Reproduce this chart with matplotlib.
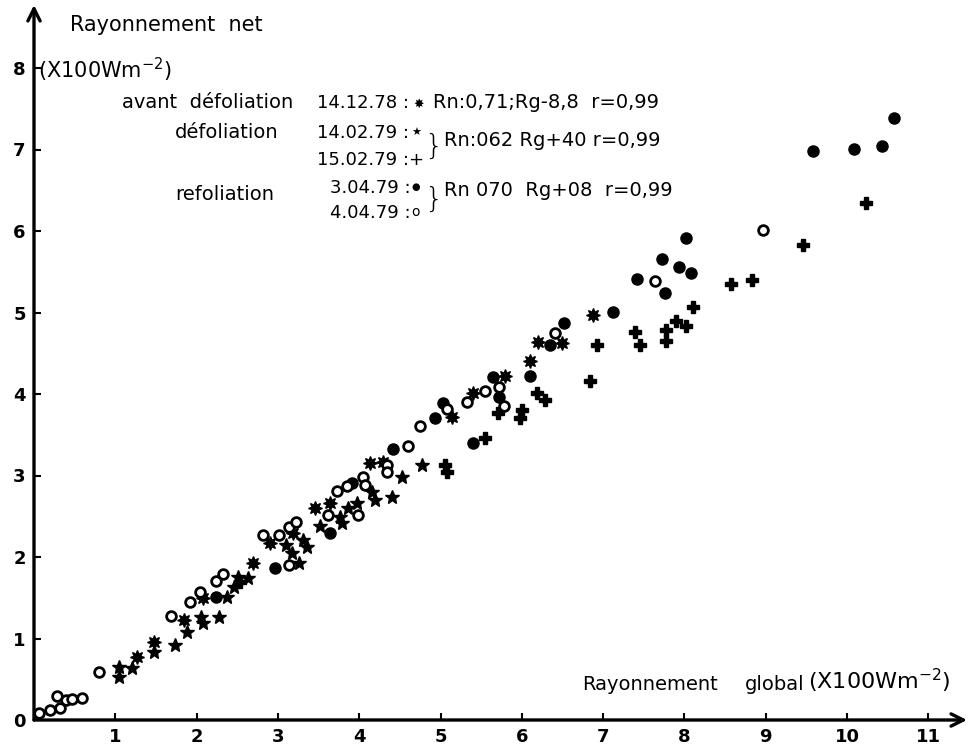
import matplotlib.pyplot as plt

plt.rcParams['font.family'] = ['DejaVu Sans']

# Rayonnement global (x) / net (y), en 100 W m-2
# 14.12.78 : avant defoliation
asterisk_x = [1.27, 1.48, 1.85, 2.08, 2.69, 2.90, 3.19, 3.46, 3.64, 4.13, 4.29,
              5.14, 5.40, 5.79, 6.10, 6.20, 6.49, 6.88]
asterisk_y = [0.77, 0.96, 1.23, 1.50, 1.93, 2.17, 2.29, 2.60, 2.66, 3.15, 3.17,
              3.72, 4.01, 4.22, 4.40, 4.64, 4.63, 4.97]
# 14.02.79 : defoliation
star_x = [1.05, 1.05, 1.21, 1.48, 1.73, 1.88, 2.05, 2.08, 2.28, 2.37, 2.46, 2.63,
          2.51, 3.10, 3.17, 3.26, 3.31, 3.36, 3.52, 3.76, 3.79, 3.86, 3.97, 4.16,
          4.19, 4.40, 4.53, 4.77]
star_y = [0.65, 0.53, 0.64, 0.83, 0.92, 1.08, 1.26, 1.19, 1.26, 1.51, 1.63, 1.74,
          1.75, 2.15, 2.05, 1.93, 2.21, 2.12, 2.38, 2.49, 2.42, 2.60, 2.66, 2.80,
          2.70, 2.74, 2.98, 3.13]
# 15.02.79 : defoliation
plus_x = [2.53, 5.06, 5.08, 5.55, 5.71, 6.00, 5.98, 6.19, 6.29, 6.84, 6.93, 7.39,
          7.45, 7.77, 7.77, 7.90, 8.02, 8.11, 8.57, 8.83, 9.46, 10.23]
plus_y = [1.69, 3.13, 3.04, 3.46, 3.77, 3.80, 3.71, 4.01, 3.93, 4.16, 4.60, 4.76,
          4.60, 4.79, 4.65, 4.90, 4.83, 5.07, 5.35, 5.40, 5.83, 6.34]
# 3.04.79 : refoliation
dot_x = [2.24, 2.96, 3.64, 3.91, 4.42, 4.93, 5.03, 5.40, 5.65, 5.72, 6.10, 6.35,
         6.52, 7.12, 7.42, 7.72, 7.76, 7.93, 8.08, 8.02, 9.58, 10.09, 10.43, 10.58]
dot_y = [1.51, 1.87, 2.29, 2.91, 3.33, 3.71, 3.89, 3.40, 4.21, 3.96, 4.22, 4.60,
         4.87, 5.01, 5.41, 5.66, 5.24, 5.56, 5.48, 5.91, 6.98, 7.01, 7.04, 7.39]
# 4.04.79 : refoliation
ring_x = [0.06, 0.20, 0.28, 0.32, 0.39, 0.47, 0.59, 0.80, 1.69, 1.92, 2.04, 2.24,
          2.32, 2.82, 3.01, 3.14, 3.14, 3.22, 3.62, 3.73, 3.85, 3.99, 4.05, 4.07,
          4.34, 4.34, 4.60, 4.75, 5.08, 5.33, 5.55, 5.72, 5.78, 6.41, 7.64, 8.97]
ring_y = [0.09, 0.12, 0.29, 0.15, 0.25, 0.26, 0.27, 0.59, 1.28, 1.45, 1.57, 1.71,
          1.79, 2.27, 2.27, 1.90, 2.37, 2.43, 2.52, 2.81, 2.87, 2.52, 2.98, 2.88,
          3.13, 3.04, 3.36, 3.61, 3.82, 3.90, 4.04, 4.09, 3.85, 4.75, 5.39, 6.01]

x_ticks = list(range(1, 12))
y_ticks = list(range(0, 9))

W, H = 969, 746
fig = plt.figure(figsize=(W / 100, H / 100), dpi=100)
ax = fig.add_axes([34 / W, 26 / H, 933 / W, 715 / H])
ax.set_xlim(0, 933 / 81.3)
ax.set_ylim(0, 715 / 81.5)

for s in ax.spines.values():
    s.set_visible(False)
ax.annotate('', xy=(1, 0), xytext=(0, 0), xycoords='axes fraction',
            arrowprops=dict(arrowstyle='->', lw=2.4, color='black',
                            mutation_scale=22, shrinkA=0, shrinkB=0))
ax.annotate('', xy=(0, 1), xytext=(0, 0), xycoords='axes fraction',
            arrowprops=dict(arrowstyle='->', lw=2.4, color='black',
                            mutation_scale=22, shrinkA=0, shrinkB=0))

ax.set_xticks(x_ticks)
ax.set_xticklabels([str(t) for t in x_ticks], fontsize=13, fontweight='bold')
ax.set_yticks(y_ticks)
ax.set_yticklabels([str(t) for t in y_ticks], fontsize=13, fontweight='bold')
ax.tick_params(direction='in', length=5, width=1.5, pad=6)

kw = dict(ls='none', color='black', clip_on=False)
ax.plot(asterisk_x, asterisk_y, marker=(8, 1, 0), ms=10, **kw)
ax.plot(star_x, star_y, marker='*', ms=10, **kw)
ax.plot(plus_x, plus_y, marker='P', ms=9, **kw)
ax.plot(dot_x, dot_y, marker='o', ms=8, **kw)
ax.plot(ring_x, ring_y, marker='o', ms=7, mfc='white', mec='black', mew=2, **kw)


def txt(x, y, s, size=14, **k):
    fig.text(x / W, 1 - y / H, s, fontsize=size, va='center', ha='left', **k)


txt(70, 25, 'Rayonnement  net', 15)
txt(38, 70, '(X100Wm$^{-2}$)', 15)

txt(122, 103, 'avant  défoliation', 14)
txt(317, 103, '14.12.78 :', 13)
txt(413, 104, '\u2738', 9)
txt(433, 103, 'Rn:0,71;Rg-8,8  r=0,99', 14)

txt(175, 133, 'défoliation', 14)
txt(317, 133, '14.02.79 :', 13)
txt(411, 133, '\u2605', 8)
txt(317, 160, '15.02.79 :+', 13)
txt(424, 147, '}', 21, fontweight='light')
txt(444, 140, 'Rn:062 Rg+40 r=0,99', 14)

txt(175, 195, 'refoliation', 14)
txt(330, 188, '3.04.79 :', 13)
txt(411, 187, '\u25cf', 7)
txt(330, 213, '4.04.79 :', 13)
txt(411, 212, 'o', 10)
txt(424, 200, '}', 21, fontweight='light')
txt(444, 190, 'Rn 070  Rg+08  r=0,99', 14)

txt(582, 684, 'Rayonnement', 14)
txt(745, 684, 'global', 14)
txt(808, 681, '(X100Wm$^{-2}$)', 16)

fig.savefig('out.png', dpi=100)
